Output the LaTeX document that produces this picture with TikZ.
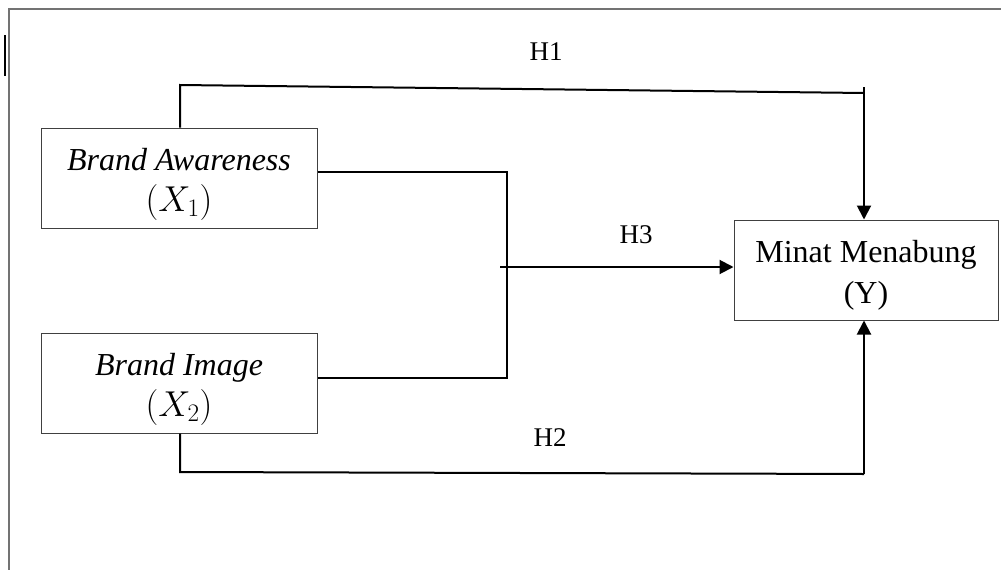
\RequirePackage{fix-cm}
\documentclass[tikz,border=0pt]{standalone}
\usepackage{fontspec}
\setmainfont{Liberation Serif}
\usetikzlibrary{arrows.meta}
\newcommand{\bigmath}[1]{{\fontsize{36}{41}\selectfont$#1$}}
\tikzset{
  varbox/.style={draw=black!75, line width=1pt, minimum width=276pt, minimum height=100pt, inner sep=0pt},
  boxtext/.style={align=center, inner sep=0pt, font=\fontsize{32}{41}\selectfont},
  conn/.style={draw=black, line width=2pt},
  arr/.style={conn, -{Triangle[length=14pt,width=14pt]}},
  hlabel/.style={font=\fontsize{27}{32}\selectfont, inner sep=0pt},
  frame/.style={draw=black!55, line width=1.2pt}
}
\begin{document}
\begin{tikzpicture}[x=1pt,y=-1pt]
\useasboundingbox (0,0) rectangle (1001,570);
% outer frame
\coordinate (fa) at (9,570);
\coordinate (fb) at (9,9);
\coordinate (fc) at (1001,9);
\draw[frame] (fa) -- (fb) -- (fc);
\coordinate (ta) at (5,35);
\coordinate (tb) at (5,76);
\draw[line width=2pt] (ta) -- (tb);
% boxes
\node[varbox] (x1) at (179,178) {};
\node[boxtext] (x1t) at ([yshift=-6pt]x1.center) {\textit{Brand Awareness}\\\bigmath{(X_1)}};
\node[varbox] (x2) at (179,383) {};
\node[boxtext] (x2t) at ([yshift=-6pt]x2.center) {\textit{Brand Image}\\\bigmath{(X_2)}};
\node[varbox, minimum width=264pt] (y) at (866,270) {};
\node[boxtext] (yt) at ([yshift=-5pt]y.center) {Minat Menabung\\(Y)};
% H1
\coordinate (h1a) at (180,85);
\coordinate (h1b) at (864,93);
\coordinate (h1c) at (864,87);
\draw[conn] (x1.north -| h1a) -- (h1a) -- (h1b);
\draw[arr] (h1c) -- (y.north -| h1c);
\node[hlabel] (l1) at (546,52) {H1};
% H3
\coordinate (j1) at (507,172);
\coordinate (j2) at (507,378);
\coordinate (j3) at (500,267);
\draw[conn] (x1.east |- j1) -- (j1) -- (j2) -- (x2.east |- j2);
\draw[arr] (j3) -- (y.west |- j3);
\node[hlabel] (l3) at (636,235) {H3};
% H2
\coordinate (h2a) at (180,472);
\coordinate (h2b) at (864,474);
\draw[conn] (x2.south -| h2a) -- (h2a) -- (h2b);
\draw[arr] (h2b) -- (y.south -| h2b);
\node[hlabel] (l2) at (550,438) {H2};
\end{tikzpicture}
\end{document}
